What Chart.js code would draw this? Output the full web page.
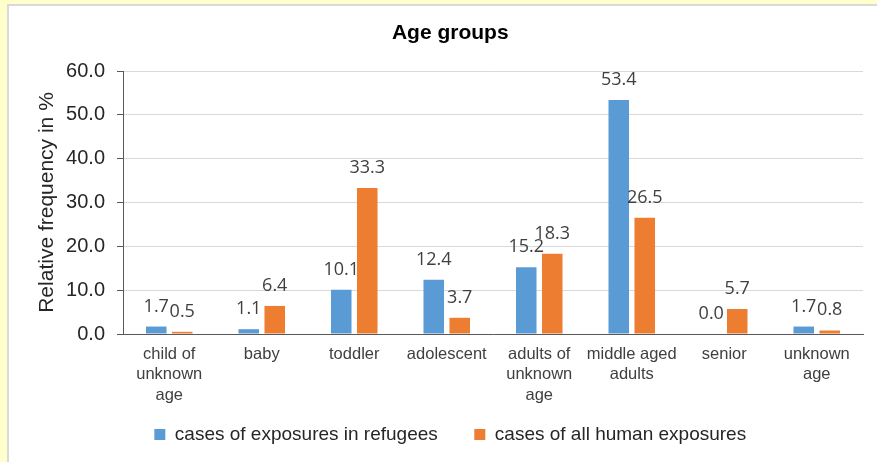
<!DOCTYPE html>
<html>
<head>
<meta charset="utf-8">
<script src="https://cdn.jsdelivr.net/npm/chart.js@4/dist/chart.umd.min.js"></script>
<style>
  html, body { margin: 0; padding: 0; }
  body { width: 877px; height: 462px; background: #FFFFCC; position: relative; overflow: hidden; }
  #panel { position: absolute; left: 7px; top: 4px; width: 870px; height: 458px; background: #FFFFFF;
           border-top: 2px solid #D9D9D9; border-left: 2px solid #D9D9D9; box-sizing: border-box; }
  #c { position: absolute; left: 0; top: 0; }
</style>
</head>
<body>
<div id="panel"></div>
<canvas id="c" width="877" height="462"></canvas>
<script>
const categories = [
  ["child of", "unknown", "age"],
  "baby",
  "toddler",
  "adolescent",
  ["adults of", "unknown", "age"],
  ["middle aged", "adults"],
  "senior",
  ["unknown", "age"]
];
const refugeeCases = [1.7, 1.1, 10.1, 12.4, 15.2, 53.4, 0.0, 1.7];
const allHumanCases = [0.5, 6.4, 33.3, 3.7, 18.3, 26.5, 5.7, 0.8];
const seriesNames = ["cases of exposures in refugees", "cases of all human exposures"];
const yTicks = [0, 10, 20, 30, 40, 50, 60];

const valueLabels = {
  id: 'valueLabels',
  afterDatasetsDraw(chart) {
    const ctx = chart.ctx;
    ctx.save();
    ctx.font = '18px "Open Sans"';
    ctx.fillStyle = '#404040';
    ctx.textAlign = 'center';
    ctx.textBaseline = 'alphabetic';
    chart.data.datasets.forEach((ds, i) => {
      const meta = chart.getDatasetMeta(i);
      meta.data.forEach((el, j) => {
        ctx.fillText(ds.data[j].toFixed(1), el.x, el.y - 15);
      });
    });
    ctx.restore();
  }
};

// let the three-line category labels extend below the x-axis box (Chart.js clips labels to the scale box)
const extendLabelArea = {
  id: 'extendLabelArea',
  afterLayout(chart) {
    const x = chart.scales.x;
    x.bottom = x.top + 80;
  }
};

new Chart(document.getElementById('c'), {
  type: 'bar',
  data: {
    labels: categories,
    datasets: [
      { label: seriesNames[0], data: refugeeCases, backgroundColor: '#5B9BD5', borderWidth: 0,
        categoryPercentage: 0.562, barPercentage: 0.79 },
      { label: seriesNames[1], data: allHumanCases, backgroundColor: '#ED7D31', borderWidth: 0,
        categoryPercentage: 0.562, barPercentage: 0.79 }
    ]
  },
  options: {
    responsive: false,
    devicePixelRatio: 1,
    animation: false,
    layout: { padding: { left: 37.5, right: 14, top: 0, bottom: 8 } },
    plugins: {
      title: {
        display: true, text: 'Age groups', color: '#000000',
        font: { family: '"Liberation Sans", Arial, sans-serif', size: 21, weight: 'bold' },
        padding: { top: 21, bottom: 24.8 }
      },
      legend: {
        position: 'bottom',
        labels: {
          color: '#262626', boxWidth: 11, boxHeight: 11, padding: 36.5,
          font: { family: '"Liberation Sans", Arial, sans-serif', size: 19 }
        }
      },
      tooltip: { enabled: false }
    },
    scales: {
      x: {
        grid: { display: false, drawTicks: false },
        border: { display: true, color: '#595959', width: 1 },
        ticks: {
          color: '#404040', padding: 10, maxRotation: 0, autoSkip: false,
          font: { family: '"Liberation Sans", Arial, sans-serif', size: 16.5, lineHeight: 1.25 }
        },
        afterFit(scale) { scale.height = 54.5; }
      },
      y: {
        min: 0, max: 60,
        afterBuildTicks(scale) { scale.ticks = yTicks.map(v => ({ value: v })); },
        grid: { color: '#D9D9D9', lineWidth: 1, drawTicks: true, tickLength: 6, tickColor: '#595959' },
        border: { display: true, color: '#595959', width: 1 },
        ticks: {
          color: '#262626', padding: 12,
          font: { family: '"Liberation Sans", Arial, sans-serif', size: 20 },
          callback: (v) => Number(v).toFixed(1)
        },
        title: {
          display: true, text: 'Relative frequency in %', color: '#262626',
          font: { family: '"Liberation Sans", Arial, sans-serif', size: 21 },
          padding: { top: -2.5, bottom: 0 }
        },
        afterFit(scale) { scale.width = 85.5; }
      }
    }
  },
  plugins: [valueLabels, extendLabelArea]
});
</script>
</body>
</html>
